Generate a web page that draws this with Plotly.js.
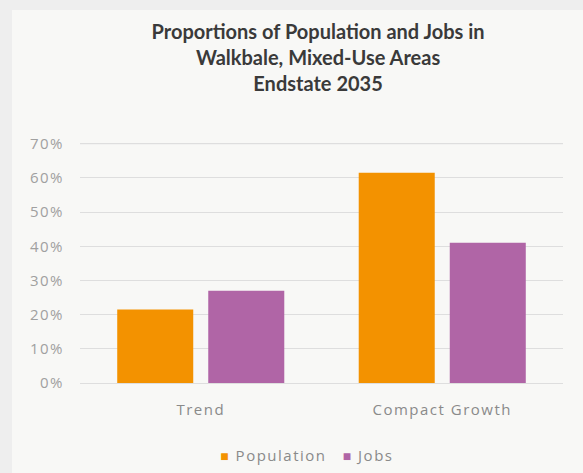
<!DOCTYPE html>
<html>
<head>
<meta charset="utf-8">
<script src="https://cdn.plot.ly/plotly-3.0.1.min.js"></script>
<style>
html,body{margin:0;padding:0;background:#eeeeee;width:583px;height:473px;overflow:hidden;}
#chart{position:absolute;left:12px;top:10px;width:571px;height:463px;}
#chart .xtick text, #chart .ytick text, #chart .annotation-text {letter-spacing:1.5px;}
</style>
</head>
<body>
<div id="chart"></div>
<script>
const categories = ["Trend", "Compact Growth"];
const seriesNames = ["Population", "Jobs"];
const seriesColors = ["#f39200", "#b065a6"];
const population = [21.5, 61.5];
const jobs = [27, 41];
const tickVals = [0, 10, 20, 30, 40, 50, 60, 70];
const tickText = ["0%", "10%", "20%", "30%", "40%", "50%", "60%", "70%"];

const traces = [
  {type: "bar", name: seriesNames[0], x: categories, y: population,
   marker: {color: seriesColors[0]}, hoverinfo: "none"},
  {type: "bar", name: seriesNames[1], x: categories, y: jobs,
   marker: {color: seriesColors[1]}, hoverinfo: "none"}
];

const legendText = seriesNames.map((n, i) =>
  '<span style="color:' + seriesColors[i] + ';font-size:14px">\u25A0</span> ' + n
).join("\u00a0\u00a0\u00a0");

const topTick = tickVals[tickVals.length - 1];

const layout = {
  width: 571, height: 463,
  paper_bgcolor: "#f8f8f6", plot_bgcolor: "#f8f8f6",
  margin: {l: 68, r: 20, t: 130.76, b: 89.5, autoexpand: false},
  title: {
    text: "<b>Proportions of Population and Jobs in<br>Walkbale, Mixed-Use Areas<br>Endstate 2035</b>",
    font: {family: "Lato, 'Open Sans', sans-serif", size: 20, color: "#3a3a3a"},
    x: 0.536, xanchor: "center", xref: "container",
    y: 0.938, yanchor: "top", yref: "container"
  },
  barmode: "group", bargap: 0.246, bargroupgap: 0.165,
  showlegend: false,
  xaxis: {
    tickfont: {family: "'Open Sans', sans-serif", size: 15, color: "#8a8a8a"},
    showline: false, ticks: "", ticklabelstandoff: 16
  },
  yaxis: {
    range: [0, 70.8], tickvals: tickVals, ticktext: tickText,
    tickfont: {family: "'Open Sans', sans-serif", size: 15, color: "#a0a0a0"},
    gridcolor: "#dedede", gridwidth: 1, zeroline: true, zerolinecolor: "#dedede",
    showline: false, ticks: "", ticklabelstandoff: 15
  },
  shapes: [{
    type: "line", xref: "paper", yref: "y", x0: 0, x1: 1, y0: topTick, y1: topTick,
    line: {color: "#dedede", width: 1}, layer: "below"
  }],
  annotations: [{
    text: legendText, xref: "paper", yref: "paper", x: 0.47, y: -0.298,
    xanchor: "center", yanchor: "middle", showarrow: false,
    font: {family: "'Open Sans', sans-serif", size: 15, color: "#8a8a8a"}
  }]
};

Plotly.newPlot("chart", traces, layout, {displayModeBar: false, staticPlot: true});
</script>
</body>
</html>
